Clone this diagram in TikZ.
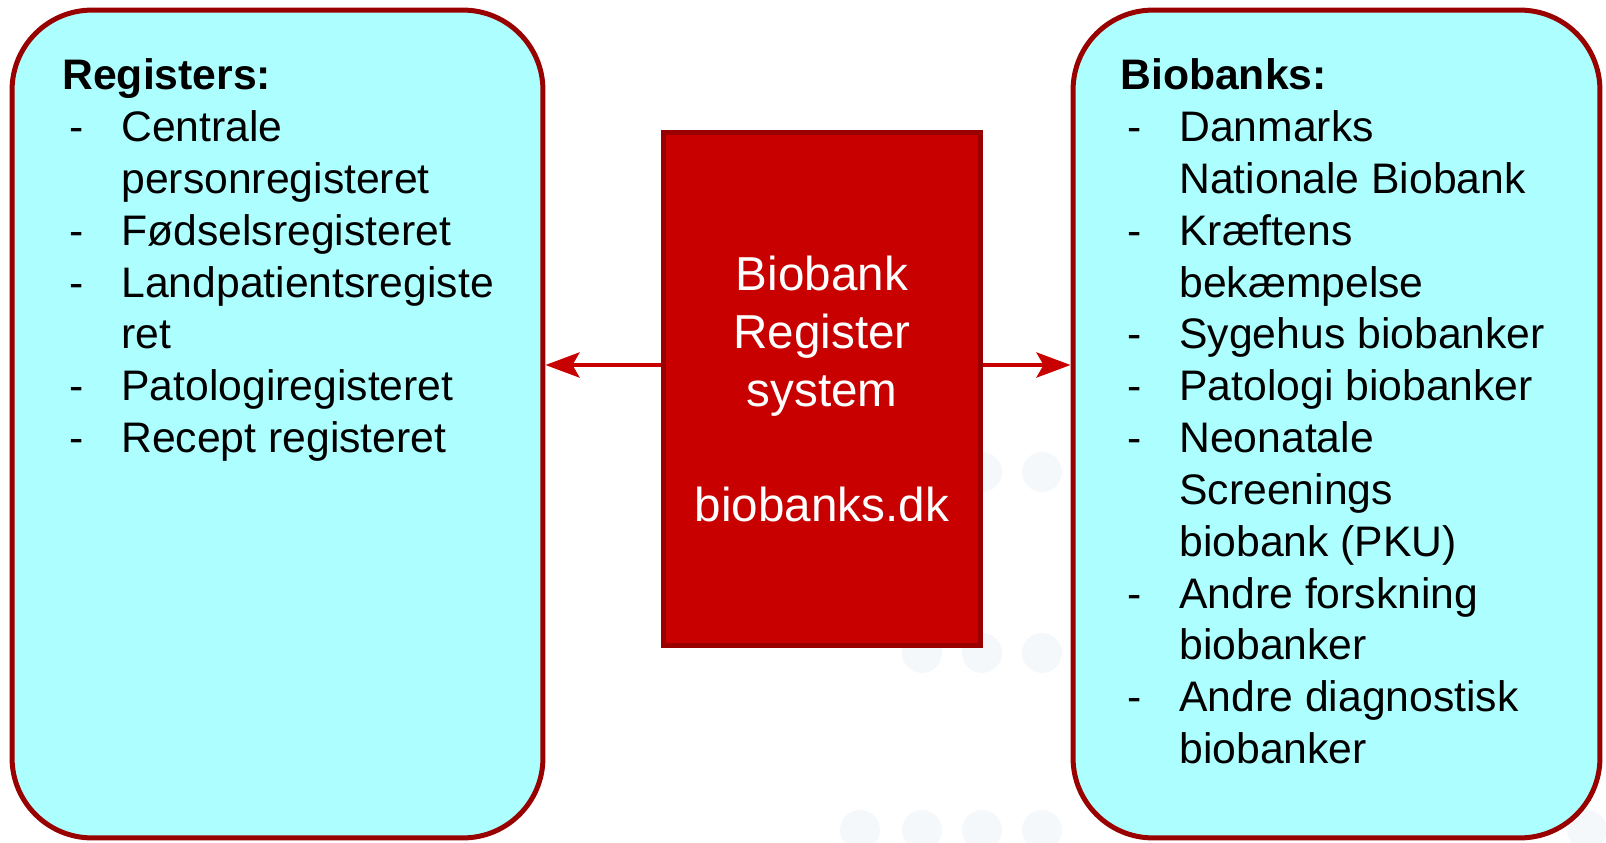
\documentclass[tikz,border=0pt]{standalone}
\usepackage{fontspec}
\setmainfont{Liberation Sans}
\usetikzlibrary{arrows.meta}

\newcommand{\listfont}{\fontsize{24.3pt}{29.5pt}\selectfont}
\newcommand{\midfont}{\fontsize{27.1pt}{33pt}\selectfont}

\begin{document}
\begin{tikzpicture}[x=0.02cm,y=-0.02cm,
  listbox/.style={draw=darkred,line width=0.1cm,fill=paleblue,rounded corners=1.6cm,minimum height=16.56cm},
  midbox/.style={draw=darkred,line width=0.1cm,fill=boxred,minimum width=6.34cm,minimum height=10.26cm,text=white,align=center,font=\midfont},
  listtext/.style={anchor=base west,inner sep=0pt,font=\listfont},
  conn/.style={-{Stealth[length=0.68cm,width=0.5cm,inset=0.14cm]},draw=boxred,line width=0.09cm}]
\definecolor{darkred}{HTML}{990000}
\definecolor{boxred}{HTML}{C80000}
\definecolor{paleblue}{HTML}{ADFFFF}
\definecolor{dotgrey}{HTML}{F4F8FA}
\useasboundingbox (0,0) rectangle (1606,842);
% faint dots behind everything
\foreach \dx/\dy in {982/472,1042/472,922/653,982/653,1042/653,860/830,922/830,982/830,1042/830,1587/830}
  {\fill[dotgrey] (\dx,\dy) circle (0.4cm);}

\node[listbox,minimum width=10.62cm] (regbox) at (277.5,424) {};
\node[listbox,minimum width=10.54cm] (bankbox) at (1336.5,424) {};
\node[midbox] (regsys) at (822,389) {Biobank\\Register\\system\\[1.16cm]biobanks.dk};

\node[listtext] (reglist) at (69,89.8) {\begin{tabular}[t]{@{}p{1.04cm}@{}l@{}}
\multicolumn{2}{@{\hspace{-0.14cm}}l@{}}{\bfseries Registers:}\\
-&Centrale\\
&personregisteret\\
-&Fødselsregisteret\\
-&Landpatientsregiste\\
&ret\\
-&Patologiregisteret\\
-&Recept registeret
\end{tabular}};

\node[listtext] (banklist) at (1127,89.8) {\begin{tabular}[t]{@{}p{1.04cm}@{}l@{}}
\multicolumn{2}{@{\hspace{-0.14cm}}l@{}}{\bfseries Biobanks:}\\
-&Danmarks\\
&Nationale Biobank\\
-&Kræftens\\
&bekæmpelse\\
-&Sygehus biobanker\\
-&Patologi biobanker\\
-&Neonatale\\
&Screenings\\
&biobank (PKU)\\
-&Andre forskning\\
&biobanker\\
-&Andre diagnostisk\\
&biobanker
\end{tabular}};

\coordinate (armlevel) at (822,365);
\draw[conn] (regsys.west |- armlevel) -- (regbox.east |- armlevel);
\draw[conn] (regsys.east |- armlevel) -- (bankbox.west |- armlevel);
\end{tikzpicture}
\end{document}
